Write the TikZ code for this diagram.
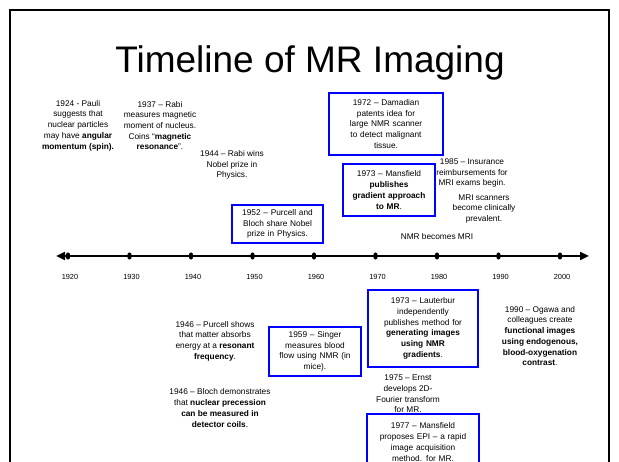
\documentclass[tikz,border=0pt]{standalone}
\usepackage{fontspec}
\setmainfont{Liberation Sans}
\usetikzlibrary{arrows.meta}
\begin{document}
\begin{tikzpicture}[x=1pt,y=-1pt,
  txt/.style={align=center,font=\fontsize{8.3}{10.7}\selectfont,inner sep=0pt},
  bx/.style={txt,draw=blue,line width=1.8pt},
  yr/.style={font=\fontsize{7.4}{9}\selectfont,inner sep=0pt},
  frame/.style={line width=1.6pt,draw=black},
  axis/.style={line width=2.4pt,{Triangle[length=9pt,width=8pt]}-{Triangle[length=9pt,width=8pt]}}]
\useasboundingbox (0,0) rectangle (619,462);
\begin{scope}
\clip (0,0) rectangle (619,462);
% frame
\coordinate (fbl) at (10,475);
\coordinate (ftl) at (10,10);
\coordinate (ftr) at (609,10);
\coordinate (fbr) at (609,475);
\draw[frame] (fbl) -- (ftl) -- (ftr) -- (fbr);
% title
\node[inner sep=0pt,font=\fontsize{37}{40}\selectfont] (title) at (310,63) {Timeline of MR Imaging};
% upper texts
\node[txt] (pauli) at (78,125.5) {1924 - Pauli\\suggests that\\nuclear particles\\may have \textbf{angular}\\\textbf{momentum (spin).}};
\node[txt] (rabi37) at (160,125.5) {1937 – Rabi\\measures magnetic\\moment of nucleus.\\Coins “\textbf{magnetic}\\\textbf{resonance}”.};
\node[txt] (rabi44) at (232,165) {1944 – Rabi wins\\Nobel prize in\\Physics.};
\node[bx,minimum width=91pt,minimum height=38pt,text width=85pt] (b1952) at (277.5,224) {1952 – Purcell and\\Bloch share Nobel\\prize in Physics.};
\node[bx,minimum width=114pt,minimum height=62pt,text width=106pt] (b1972) at (386,124) {1972 – Damadian\\patents idea for\\large NMR scanner\\to detect malignant\\tissue.};
\node[txt] (ins85) at (472,173) {1985 – Insurance\\reimbursements for\\MRI exams begin.};
\node[bx,minimum width=92pt,minimum height=52pt,text width=86pt] (b1973m) at (389,190) {1973 – Mansfield\\\textbf{publishes}\\\textbf{gradient approach}\\\textbf{to MR}.};
\node[txt] (scan) at (484,209) {MRI scanners\\become clinically\\prevalent.};
\node[txt] (nmr) at (437,237) {NMR becomes MRI};
% axis
\coordinate (axL) at (56,256);
\coordinate (axR) at (589,256);
\draw[axis] (axL) -- (axR);
\foreach \y [count=\i from 0] in {1920,1930,1940,1950,1960,1970,1980,1990,2000}{
  \fill (68+61.5*\i,256) ellipse [x radius=2.3pt,y radius=3.6pt];
  \node[yr] (y\y) at (70+61.5*\i,277) {\y};
}
% lower texts
\node[txt] (purcell) at (215,341) {1946 – Purcell shows\\that matter absorbs\\energy at a \textbf{resonant}\\\textbf{frequency}.};
\node[bx,minimum width=92pt,minimum height=49pt,text width=86pt] (b1959) at (315,351.5) {1959 – Singer\\measures blood\\flow using NMR (in\\mice).};
\node[txt] (bloch) at (220,408) {1946 – Bloch demonstrates\\that \textbf{nuclear precession}\\\textbf{can be measured in}\\\textbf{detector coils}.};
\node[bx,minimum width=110pt,minimum height=77pt,text width=104pt] (b1973l) at (423,328.5) {1973 – Lauterbur\\independently\\publishes method for\\\textbf{generating images}\\\textbf{using NMR}\\\textbf{gradients}.};
\node[txt] (ernst) at (408,394) {1975 – Ernst\\develops 2D-\\Fourier transform\\for MR.};
\node[bx,minimum width=112pt,minimum height=56pt,text width=106pt] (b1977) at (423,442) {1977 – Mansfield\\proposes EPI – a rapid\\image acquisition\\method. for MR.};
\node[txt] (ogawa) at (540,336) {1990 – Ogawa and\\colleagues create\\\textbf{functional images}\\\textbf{using endogenous,}\\\textbf{blood-oxygenation}\\\textbf{contrast}.};
\end{scope}
\end{tikzpicture}
\end{document}
